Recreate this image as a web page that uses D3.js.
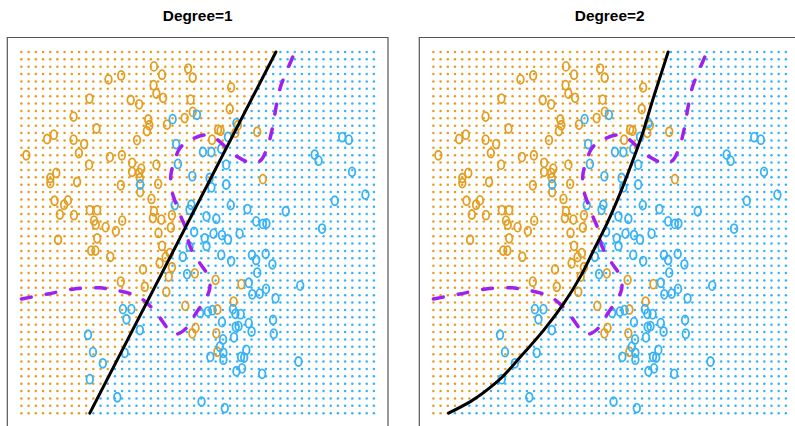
<!DOCTYPE html>
<html>
<head>
<meta charset="utf-8">
<script src="https://cdn.jsdelivr.net/npm/d3@7"></script>
<style>
  html, body { margin: 0; padding: 0; background: #ffffff; overflow: hidden; }
  svg { display: block; overflow: hidden; }
</style>
</head>
<body>
<div id="chart"></div>
<script>
// ---------------- data ----------------
const panelTitles = ["Degree=1", "Degree=2"];

// Training observations (X1, X2) — class "orange"
const orangeX1 = [0.376,0.399,0.283,0.247,0.473,0.486,0.375,0.383,0.402,0.193,0.310,0.334,0.480,0.486,0.148,0.360,0.363,0.356,0.413,0.463,0.213,0.092,0.073,0.148,0.178,0.328,0.163,0.014,0.251,0.285,0.314,0.383,0.192,0.340,0.314,0.334,0.336,0.099,0.082,0.082,0.158,0.388,0.282,0.337,0.369,0.094,0.132,0.121,0.194,0.215,0.109,0.149,0.376,0.427,0.373,0.397,0.206,0.211,0.286,0.239,0.268,0.389,0.424,0.595,0.591,0.558,0.565,0.614,0.607,0.541,0.669,0.685,0.104,0.215,0.198,0.210,0.252,0.399,0.409,0.421,0.392,0.345,0.427,0.418,0.282,0.350,0.411,0.465,0.485,0.494,0.551,0.624,0.602,0.556,0.553,0.556,0.492];
const orangeX2 = [0.960,0.937,0.935,0.924,0.954,0.929,0.908,0.885,0.873,0.871,0.867,0.855,0.868,0.834,0.821,0.813,0.797,0.781,0.799,0.817,0.788,0.771,0.759,0.757,0.745,0.756,0.720,0.714,0.709,0.714,0.693,0.688,0.688,0.677,0.668,0.665,0.651,0.665,0.651,0.637,0.640,0.635,0.631,0.612,0.593,0.588,0.589,0.577,0.562,0.562,0.550,0.548,0.559,0.548,0.540,0.536,0.533,0.522,0.533,0.515,0.504,0.499,0.514,0.902,0.842,0.785,0.782,0.797,0.776,0.757,0.779,0.648,0.480,0.484,0.450,0.450,0.433,0.463,0.432,0.443,0.415,0.398,0.404,0.378,0.364,0.350,0.336,0.297,0.221,0.236,0.369,0.357,0.309,0.287,0.221,0.170,0.387];

// Training observations (X1, X2) — class "blue"
const blueX1 = [0.429,0.498,0.439,0.444,0.485,0.337,0.435,0.477,0.482,0.490,0.610,0.586,0.515,0.539,0.567,0.581,0.534,0.539,0.581,0.594,0.641,0.525,0.553,0.666,0.685,0.695,0.750,0.910,0.929,0.832,0.843,0.938,0.976,0.889,0.853,0.545,0.569,0.619,0.458,0.477,0.470,0.288,0.312,0.298,0.336,0.189,0.203,0.293,0.231,0.194,0.272,0.511,0.520,0.586,0.525,0.567,0.595,0.654,0.666,0.693,0.712,0.669,0.645,0.655,0.676,0.694,0.721,0.791,0.507,0.529,0.542,0.600,0.607,0.622,0.569,0.645,0.608,0.616,0.653,0.714,0.716,0.572,0.603,0.563,0.638,0.536,0.573,0.573,0.623,0.632,0.610,0.626,0.683,0.786,0.577];
const blueX2 = [0.814,0.826,0.745,0.690,0.656,0.633,0.576,0.563,0.577,0.502,0.803,0.765,0.723,0.723,0.732,0.688,0.651,0.625,0.633,0.576,0.565,0.545,0.538,0.531,0.524,0.525,0.559,0.764,0.757,0.716,0.699,0.668,0.605,0.588,0.511,0.497,0.493,0.497,0.433,0.461,0.385,0.288,0.288,0.260,0.230,0.217,0.169,0.167,0.138,0.094,0.044,0.032,0.484,0.481,0.463,0.438,0.421,0.438,0.424,0.441,0.412,0.389,0.361,0.329,0.331,0.344,0.318,0.353,0.278,0.281,0.285,0.288,0.275,0.274,0.252,0.249,0.239,0.241,0.226,0.258,0.220,0.204,0.210,0.184,0.175,0.156,0.167,0.148,0.156,0.154,0.116,0.124,0.109,0.143,0.014];

// Bayes decision boundary (purple dashed)
const bayesX1 = [0.000,0.075,0.158,0.223,0.257,0.302,0.336,0.371,0.393,0.416,0.433,0.450,0.473,0.492,0.515,0.532,0.535,0.527,0.510,0.490,0.475,0.467,0.453,0.436,0.426,0.424,0.433,0.450,0.475,0.521,0.549,0.586,0.614,0.651,0.677,0.697,0.711,0.722,0.734,0.748,0.765,0.776];
const bayesX2 = [0.316,0.330,0.345,0.347,0.342,0.333,0.320,0.291,0.264,0.233,0.219,0.222,0.241,0.272,0.305,0.336,0.358,0.385,0.410,0.438,0.471,0.510,0.543,0.587,0.618,0.659,0.695,0.734,0.754,0.770,0.762,0.731,0.709,0.693,0.698,0.734,0.784,0.845,0.900,0.936,0.975,1.000];

// Fitted logistic-regression boundaries (black): X1 as a function of X2
const fit1X2 = [0, 1];
const fit1X1 = [0.194, 0.722];
const fit2X2 = [0.000,0.032,0.087,0.156,0.230,0.304,0.378,0.452,0.526,0.609,0.682,0.756,0.876,1.000];
const fit2X1 = [0.043,0.105,0.181,0.247,0.313,0.370,0.417,0.455,0.493,0.530,0.559,0.587,0.625,0.666];

// prediction grid (50 x 50 regular lattice)
const gridN = 50;

// ---------------- styles ----------------
const ORANGE = "#E39E22";
const BLUE = "#36B2F6";
const PURPLE = "#A020F0";

const W = 795, H = 426;
const svg = d3.select("#chart").append("svg").attr("width", W).attr("height", H);

const panels = [
  { title: panelTitles[0], left: 7.3, fx: fit1X1, fy: fit1X2, curve: d3.curveLinear },
  { title: panelTitles[1], left: 419.3, fx: fit2X1, fy: fit2X2, curve: d3.curveMonotoneY }
];
const panelW = 380.7, panelTop = 37.5, panelH = 390.1;

const gridVals = d3.range(gridN).map(i => i / (gridN - 1));

function interpBoundary(fx, fy, yv) {
  for (let i = 0; i < fy.length - 1; i++) {
    if (yv >= fy[i] && yv <= fy[i + 1]) {
      const t = (yv - fy[i]) / (fy[i + 1] - fy[i]);
      return fx[i] + t * (fx[i + 1] - fx[i]);
    }
  }
  return yv < fy[0] ? fx[0] : fx[fx.length - 1];
}

panels.forEach(p => {
  const x = d3.scaleLinear().domain([-0.04, 1.04]).range([p.left, p.left + panelW]);
  const y = d3.scaleLinear().domain([-0.04, 1.04]).range([panelTop + panelH, panelTop]);
  const g = svg.append("g");

  // title
  svg.append("text")
    .attr("x", p.left + panelW / 2).attr("y", 21.3)
    .attr("text-anchor", "middle")
    .attr("font-family", "'Liberation Sans', Arial, Helvetica, sans-serif")
    .attr("font-weight", "bold").attr("font-size", 15.4)
    .attr("fill", "#000").text(p.title);

  // grid of predicted classes
  const cells = [];
  gridVals.forEach(gy => {
    const bx = interpBoundary(p.fx, p.fy, gy);
    gridVals.forEach(gx => cells.push({ gx, gy, c: gx < bx ? ORANGE : BLUE }));
  });
  g.append("g").selectAll("circle").data(cells).join("circle")
    .attr("cx", d => x(d.gx)).attr("cy", d => y(d.gy)).attr("r", 1.25)
    .attr("fill", d => d.c);

  // observations
  const obs = orangeX1.map((v, i) => ({ a: v, b: orangeX2[i], c: ORANGE }))
    .concat(blueX1.map((v, i) => ({ a: v, b: blueX2[i], c: BLUE })));
  g.append("g").selectAll("ellipse").data(obs).join("ellipse")
    .attr("cx", d => x(d.a)).attr("cy", d => y(d.b))
    .attr("rx", 3.3).attr("ry", 4.5)
    .attr("fill", "none").attr("stroke", d => d.c).attr("stroke-width", 1.8);

  // Bayes boundary
  const bayes = bayesX1.map((v, i) => [v, bayesX2[i]]);
  g.append("path").datum(bayes)
    .attr("d", d3.line().x(d => x(d[0])).y(d => y(d[1])).curve(d3.curveCatmullRom.alpha(0.5)))
    .attr("fill", "none").attr("stroke", PURPLE).attr("stroke-width", 3.5)
    .attr("stroke-linecap", "round").attr("stroke-dasharray", "10,15");

  // fitted boundary
  const fit = p.fx.map((v, i) => [v, p.fy[i]]);
  g.append("path").datum(fit)
    .attr("d", d3.line().x(d => x(d[0])).y(d => y(d[1])).curve(p.curve))
    .attr("fill", "none").attr("stroke", "#000").attr("stroke-width", 3)
    .attr("stroke-linecap", "round");

  // panel box (bottom edge lies below the visible area)
  const x0 = p.left, x1 = p.left + panelW, y0 = panelTop, y1 = panelTop + panelH;
  svg.append("path")
    .attr("d", `M${x0},${y1}L${x0},${y0}L${x1},${y0}L${x1},${y1}`)
    .attr("fill", "none").attr("stroke", "#555").attr("stroke-width", 1.2);
});
</script>
</body>
</html>
